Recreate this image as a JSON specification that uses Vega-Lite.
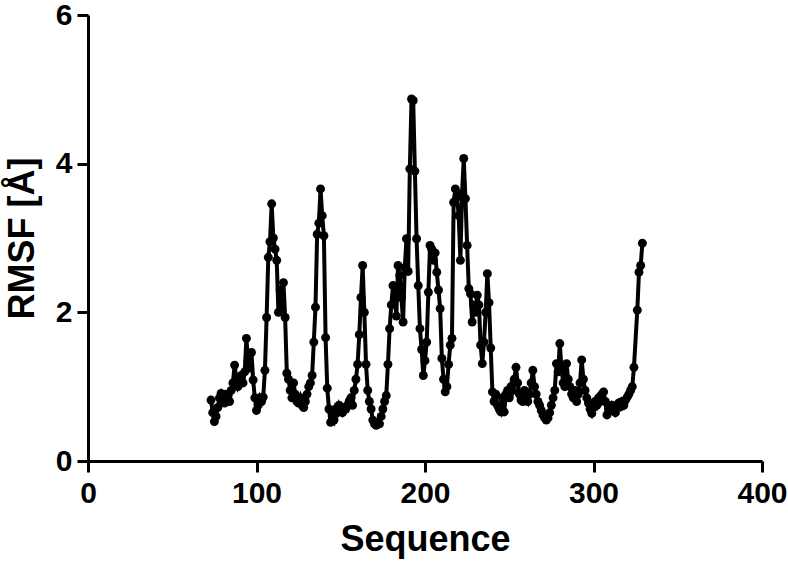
{
  "$schema": "https://vega.github.io/schema/vega-lite/v6.json",
  "autosize": "none",
  "width": 674,
  "height": 446,
  "padding": {"left": 88, "top": 15, "right": 26, "bottom": 106},
  "background": "white",
  "config": {
    "font": "Liberation Sans",
    "view": {"stroke": null},
    "axis": {
      "grid": false,
      "labelFlush": false,
      "domainColor": "black",
      "domainWidth": 3,
      "tickColor": "black",
      "tickWidth": 3,
      "tickSize": 11,
      "labelColor": "black",
      "labelFont": "Liberation Sans",
      "labelFontSize": 30,
      "labelFontWeight": "bold",
      "titleColor": "black",
      "titleFont": "Liberation Sans",
      "titleFontSize": 36,
      "titleFontWeight": "bold"
    }
  },
  "data": {
    "values": [
      {"seq": 73, "rmsf": 0.82}, {"seq": 74, "rmsf": 0.65}, {"seq": 75, "rmsf": 0.53}, {"seq": 76, "rmsf": 0.60},
      {"seq": 77, "rmsf": 0.72}, {"seq": 78, "rmsf": 0.85}, {"seq": 79, "rmsf": 0.91}, {"seq": 80, "rmsf": 0.85},
      {"seq": 81, "rmsf": 0.78}, {"seq": 82, "rmsf": 0.90}, {"seq": 83, "rmsf": 0.88}, {"seq": 84, "rmsf": 0.80},
      {"seq": 85, "rmsf": 0.95}, {"seq": 86, "rmsf": 1.05}, {"seq": 87, "rmsf": 1.29}, {"seq": 88, "rmsf": 1.10},
      {"seq": 89, "rmsf": 1.00}, {"seq": 90, "rmsf": 1.05}, {"seq": 91, "rmsf": 1.15}, {"seq": 92, "rmsf": 1.05},
      {"seq": 93, "rmsf": 1.20}, {"seq": 94, "rmsf": 1.65}, {"seq": 95, "rmsf": 1.35}, {"seq": 96, "rmsf": 1.25},
      {"seq": 97, "rmsf": 1.46}, {"seq": 98, "rmsf": 1.09}, {"seq": 99, "rmsf": 0.85}, {"seq": 100, "rmsf": 0.68},
      {"seq": 101, "rmsf": 0.75}, {"seq": 102, "rmsf": 0.85}, {"seq": 103, "rmsf": 0.80}, {"seq": 104, "rmsf": 0.86},
      {"seq": 105, "rmsf": 1.22}, {"seq": 106, "rmsf": 1.93}, {"seq": 107, "rmsf": 2.74}, {"seq": 108, "rmsf": 2.95},
      {"seq": 109, "rmsf": 3.46}, {"seq": 110, "rmsf": 3.00}, {"seq": 111, "rmsf": 2.85}, {"seq": 112, "rmsf": 2.70},
      {"seq": 113, "rmsf": 2.00}, {"seq": 114, "rmsf": 2.30}, {"seq": 115, "rmsf": 2.05}, {"seq": 116, "rmsf": 2.40},
      {"seq": 117, "rmsf": 1.93}, {"seq": 118, "rmsf": 1.18}, {"seq": 119, "rmsf": 1.10}, {"seq": 120, "rmsf": 0.95},
      {"seq": 121, "rmsf": 0.85}, {"seq": 122, "rmsf": 1.05}, {"seq": 123, "rmsf": 0.90}, {"seq": 124, "rmsf": 0.80},
      {"seq": 125, "rmsf": 0.78}, {"seq": 126, "rmsf": 0.85}, {"seq": 127, "rmsf": 0.75}, {"seq": 128, "rmsf": 0.72},
      {"seq": 129, "rmsf": 0.80}, {"seq": 130, "rmsf": 0.90}, {"seq": 131, "rmsf": 1.00}, {"seq": 132, "rmsf": 1.05},
      {"seq": 133, "rmsf": 1.15}, {"seq": 134, "rmsf": 1.60}, {"seq": 135, "rmsf": 2.07}, {"seq": 136, "rmsf": 3.05},
      {"seq": 137, "rmsf": 3.20}, {"seq": 138, "rmsf": 3.66}, {"seq": 139, "rmsf": 3.30}, {"seq": 140, "rmsf": 3.03},
      {"seq": 141, "rmsf": 1.66}, {"seq": 142, "rmsf": 0.98}, {"seq": 143, "rmsf": 0.70}, {"seq": 144, "rmsf": 0.52},
      {"seq": 145, "rmsf": 0.60}, {"seq": 146, "rmsf": 0.55}, {"seq": 147, "rmsf": 0.70}, {"seq": 148, "rmsf": 0.65},
      {"seq": 149, "rmsf": 0.75}, {"seq": 150, "rmsf": 0.70}, {"seq": 151, "rmsf": 0.65}, {"seq": 152, "rmsf": 0.72},
      {"seq": 153, "rmsf": 0.70}, {"seq": 154, "rmsf": 0.75}, {"seq": 155, "rmsf": 0.80}, {"seq": 156, "rmsf": 0.85},
      {"seq": 157, "rmsf": 0.75}, {"seq": 158, "rmsf": 0.95}, {"seq": 159, "rmsf": 1.10}, {"seq": 160, "rmsf": 1.30},
      {"seq": 161, "rmsf": 1.70}, {"seq": 162, "rmsf": 2.20}, {"seq": 163, "rmsf": 2.63}, {"seq": 164, "rmsf": 2.00},
      {"seq": 165, "rmsf": 1.30}, {"seq": 166, "rmsf": 0.95}, {"seq": 167, "rmsf": 0.80}, {"seq": 168, "rmsf": 0.70},
      {"seq": 169, "rmsf": 0.55}, {"seq": 170, "rmsf": 0.50}, {"seq": 171, "rmsf": 0.48}, {"seq": 172, "rmsf": 0.52},
      {"seq": 173, "rmsf": 0.50}, {"seq": 174, "rmsf": 0.60}, {"seq": 175, "rmsf": 0.70}, {"seq": 176, "rmsf": 0.80},
      {"seq": 177, "rmsf": 0.88}, {"seq": 178, "rmsf": 1.30}, {"seq": 179, "rmsf": 1.78}, {"seq": 180, "rmsf": 2.10},
      {"seq": 181, "rmsf": 2.36}, {"seq": 182, "rmsf": 2.20}, {"seq": 183, "rmsf": 1.95}, {"seq": 184, "rmsf": 2.63},
      {"seq": 185, "rmsf": 2.50}, {"seq": 186, "rmsf": 2.20}, {"seq": 187, "rmsf": 1.87}, {"seq": 188, "rmsf": 2.60},
      {"seq": 189, "rmsf": 2.99}, {"seq": 190, "rmsf": 2.55}, {"seq": 191, "rmsf": 3.93}, {"seq": 192, "rmsf": 4.87},
      {"seq": 193, "rmsf": 4.85}, {"seq": 194, "rmsf": 3.90}, {"seq": 195, "rmsf": 2.99}, {"seq": 196, "rmsf": 2.36},
      {"seq": 197, "rmsf": 1.78}, {"seq": 198, "rmsf": 1.50}, {"seq": 199, "rmsf": 1.15}, {"seq": 200, "rmsf": 1.35},
      {"seq": 201, "rmsf": 1.60}, {"seq": 202, "rmsf": 2.27}, {"seq": 203, "rmsf": 2.90}, {"seq": 204, "rmsf": 2.85},
      {"seq": 205, "rmsf": 2.70}, {"seq": 206, "rmsf": 2.80}, {"seq": 207, "rmsf": 2.54}, {"seq": 208, "rmsf": 2.30},
      {"seq": 209, "rmsf": 2.05}, {"seq": 210, "rmsf": 1.38}, {"seq": 211, "rmsf": 1.10}, {"seq": 212, "rmsf": 0.93},
      {"seq": 213, "rmsf": 1.00}, {"seq": 214, "rmsf": 1.30}, {"seq": 215, "rmsf": 1.56}, {"seq": 216, "rmsf": 1.65},
      {"seq": 217, "rmsf": 3.48}, {"seq": 218, "rmsf": 3.66}, {"seq": 219, "rmsf": 3.55}, {"seq": 220, "rmsf": 3.30},
      {"seq": 221, "rmsf": 2.70}, {"seq": 222, "rmsf": 3.60}, {"seq": 223, "rmsf": 4.07}, {"seq": 224, "rmsf": 3.53},
      {"seq": 225, "rmsf": 2.90}, {"seq": 226, "rmsf": 2.32}, {"seq": 227, "rmsf": 2.25}, {"seq": 228, "rmsf": 1.87},
      {"seq": 229, "rmsf": 2.10}, {"seq": 230, "rmsf": 2.00}, {"seq": 231, "rmsf": 2.23}, {"seq": 232, "rmsf": 2.10},
      {"seq": 233, "rmsf": 1.56}, {"seq": 234, "rmsf": 1.31}, {"seq": 235, "rmsf": 1.60}, {"seq": 236, "rmsf": 2.00},
      {"seq": 237, "rmsf": 2.52}, {"seq": 238, "rmsf": 2.13}, {"seq": 239, "rmsf": 1.52}, {"seq": 240, "rmsf": 0.93},
      {"seq": 241, "rmsf": 0.80}, {"seq": 242, "rmsf": 0.90}, {"seq": 243, "rmsf": 0.75}, {"seq": 244, "rmsf": 0.70},
      {"seq": 245, "rmsf": 0.66}, {"seq": 246, "rmsf": 0.85}, {"seq": 247, "rmsf": 0.66}, {"seq": 248, "rmsf": 0.90},
      {"seq": 249, "rmsf": 0.95}, {"seq": 250, "rmsf": 0.85}, {"seq": 251, "rmsf": 1.00}, {"seq": 252, "rmsf": 0.95},
      {"seq": 253, "rmsf": 1.10}, {"seq": 254, "rmsf": 1.26}, {"seq": 255, "rmsf": 1.05}, {"seq": 256, "rmsf": 0.90},
      {"seq": 257, "rmsf": 0.82}, {"seq": 258, "rmsf": 0.80}, {"seq": 259, "rmsf": 0.95}, {"seq": 260, "rmsf": 0.85},
      {"seq": 261, "rmsf": 0.80}, {"seq": 262, "rmsf": 0.90}, {"seq": 263, "rmsf": 1.05}, {"seq": 264, "rmsf": 1.22},
      {"seq": 265, "rmsf": 1.00}, {"seq": 266, "rmsf": 0.90}, {"seq": 267, "rmsf": 0.80}, {"seq": 268, "rmsf": 0.75},
      {"seq": 269, "rmsf": 0.68}, {"seq": 270, "rmsf": 0.62}, {"seq": 271, "rmsf": 0.58}, {"seq": 272, "rmsf": 0.55},
      {"seq": 273, "rmsf": 0.58}, {"seq": 274, "rmsf": 0.65}, {"seq": 275, "rmsf": 0.75}, {"seq": 276, "rmsf": 0.85},
      {"seq": 277, "rmsf": 0.95}, {"seq": 278, "rmsf": 1.31}, {"seq": 279, "rmsf": 1.20}, {"seq": 280, "rmsf": 1.58},
      {"seq": 281, "rmsf": 1.25}, {"seq": 282, "rmsf": 1.05}, {"seq": 283, "rmsf": 1.00}, {"seq": 284, "rmsf": 1.31},
      {"seq": 285, "rmsf": 1.10}, {"seq": 286, "rmsf": 1.00}, {"seq": 287, "rmsf": 0.90}, {"seq": 288, "rmsf": 0.85},
      {"seq": 289, "rmsf": 0.95}, {"seq": 290, "rmsf": 0.80}, {"seq": 291, "rmsf": 0.90}, {"seq": 292, "rmsf": 1.05},
      {"seq": 293, "rmsf": 1.36}, {"seq": 294, "rmsf": 1.10}, {"seq": 295, "rmsf": 0.95}, {"seq": 296, "rmsf": 0.85},
      {"seq": 297, "rmsf": 0.78}, {"seq": 298, "rmsf": 0.70}, {"seq": 299, "rmsf": 0.64}, {"seq": 300, "rmsf": 0.72},
      {"seq": 301, "rmsf": 0.80}, {"seq": 302, "rmsf": 0.75}, {"seq": 303, "rmsf": 0.85}, {"seq": 304, "rmsf": 0.80},
      {"seq": 305, "rmsf": 0.90}, {"seq": 306, "rmsf": 0.93}, {"seq": 307, "rmsf": 0.80}, {"seq": 308, "rmsf": 0.62},
      {"seq": 309, "rmsf": 0.70}, {"seq": 310, "rmsf": 0.68}, {"seq": 311, "rmsf": 0.75}, {"seq": 312, "rmsf": 0.70},
      {"seq": 313, "rmsf": 0.65}, {"seq": 314, "rmsf": 0.72}, {"seq": 315, "rmsf": 0.78}, {"seq": 316, "rmsf": 0.73},
      {"seq": 317, "rmsf": 0.80}, {"seq": 318, "rmsf": 0.75}, {"seq": 319, "rmsf": 0.82}, {"seq": 320, "rmsf": 0.86},
      {"seq": 321, "rmsf": 0.90}, {"seq": 322, "rmsf": 0.95}, {"seq": 323, "rmsf": 1.00}, {"seq": 324, "rmsf": 1.26},
      {"seq": 326, "rmsf": 2.03}, {"seq": 327, "rmsf": 2.54}, {"seq": 328, "rmsf": 2.63}, {"seq": 329, "rmsf": 2.93}
    ]
  },
  "encoding": {
    "x": {
      "field": "seq",
      "type": "quantitative",
      "scale": {"domain": [0, 400], "nice": false, "zero": true},
      "axis": {"values": [0, 100, 200, 300, 400], "title": "Sequence", "labelPadding": 6, "titlePadding": 14}
    },
    "y": {
      "field": "rmsf",
      "type": "quantitative",
      "scale": {"domain": [0, 6], "nice": false},
      "axis": {"values": [0, 2, 4, 6], "title": "RMSF [Å]", "labelPadding": 5, "titlePadding": 14}
    }
  },
  "layer": [
    {"mark": {"type": "line", "color": "black", "strokeWidth": 4}},
    {"mark": {"type": "point", "filled": true, "color": "black", "opacity": 1, "size": 80, "shape": "circle"}}
  ]
}
